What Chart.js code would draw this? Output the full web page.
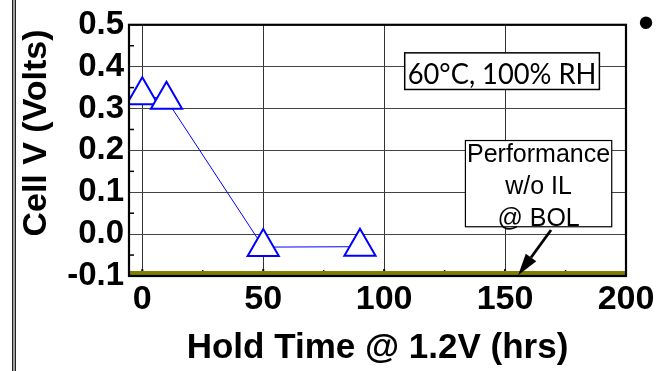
<!DOCTYPE html>
<html><head><meta charset="utf-8">
<script src="https://cdn.jsdelivr.net/npm/chart.js@4"></script>
<style>
html,body{margin:0;padding:0;background:#fff;}
#wrap{position:relative;width:659px;height:371px;overflow:hidden;background:#fff;}
canvas{position:absolute;left:0;top:0;}
#bar{position:absolute;left:12px;top:0;width:2px;height:371px;background:#a0a0a0;border-left:1.5px solid #222;border-right:1.5px solid #222;}
#bullet{position:absolute;left:638px;top:-4px;font:46px 'Liberation Sans',Arial,sans-serif;color:#000;line-height:52px;}
</style></head><body>
<div id="wrap"><canvas id="c" width="659" height="371"></canvas><div id="bar"></div><div id="bullet">•</div></div>
<script>
const holdTimeHrs = [0, 10, 50, 90];
const cellVoltage = [0.332, 0.321, -0.031, -0.030];
const bolTimeHrs = [-5.5, 200];
const bolVoltage = [-0.1, -0.1];
const xTickValues = [0, 50, 100, 150, 200];
const yTickValues = [-0.1, 0.0, 0.1, 0.2, 0.3, 0.4, 0.5];
const conditionLabel = '60°C, 100% RH';
const baselineLabel = ['Performance', 'w/o IL', '@ BOL'];
const xAxisTitle = 'Hold Time @ 1.2V (hrs)';
const yAxisTitle = 'Cell V (Volts)';

const FONT = "'Liberation Sans', Arial, sans-serif";

function line(ctx, x1, y1, x2, y2) { ctx.beginPath(); ctx.moveTo(x1, y1); ctx.lineTo(x2, y2); ctx.stroke(); }

const framePlugin = {
  id: 'frame',
  beforeDatasetsDraw(chart) {
    const {ctx, chartArea: a, scales: {x, y}} = chart;
    ctx.save();
    ctx.strokeStyle = '#000';
    ctx.lineWidth = 1.5;
    for (let i = 0; i < yTickValues.length - 1; i++) {
      const py = y.getPixelForValue((yTickValues[i] + yTickValues[i + 1]) / 2);
      line(ctx, a.left, py, a.left + 5, py);
    }
    for (let i = 0; i < xTickValues.length - 1; i++) {
      const px = x.getPixelForValue((xTickValues[i] + xTickValues[i + 1]) / 2);
      line(ctx, px, a.bottom, px, a.bottom - 6);
    }
    ctx.lineWidth = 2;
    xTickValues.forEach(v => { const px = x.getPixelForValue(v); line(ctx, px, a.bottom, px, a.bottom - 7); });
    ctx.restore();
  },
  afterDatasetsDraw(chart) {
    const {ctx, chartArea: a, scales: {x, y}} = chart;
    ctx.save();
    ctx.strokeStyle = '#000';
    ctx.lineWidth = 2.2;
    ctx.strokeRect(a.left, a.top, a.right - a.left, a.bottom - a.top);

    let bx1 = x.getPixelForValue(108.5), bx2 = x.getPixelForValue(189.0);
    let by1 = y.getPixelForValue(0.433), by2 = y.getPixelForValue(0.3455);
    ctx.fillStyle = '#fff';
    ctx.fillRect(bx1, by1, bx2 - bx1, by2 - by1);
    ctx.lineWidth = 1.5;
    ctx.strokeRect(bx1, by1, bx2 - bx1, by2 - by1);
    ctx.fillStyle = '#000';
    ctx.font = "29px Lato, 'Open Sans', sans-serif";
    ctx.textAlign = 'center';
    ctx.textBaseline = 'alphabetic';
    ctx.fillText(conditionLabel, (bx1 + bx2) / 2, by1 + 31.5, bx2 - bx1 - 6);

    bx1 = x.getPixelForValue(133.6); bx2 = x.getPixelForValue(194.1);
    by1 = y.getPixelForValue(0.2236); by2 = y.getPixelForValue(0.0176);
    ctx.fillStyle = '#fff';
    ctx.fillRect(bx1, by1, bx2 - bx1, by2 - by1);
    ctx.lineWidth = 1.2;
    ctx.strokeRect(bx1, by1, bx2 - bx1, by2 - by1);
    ctx.fillStyle = '#000';
    ctx.font = "25px " + FONT;
    baselineLabel.forEach((t, i) => ctx.fillText(t, (bx1 + bx2) / 2, by1 + 21.7 + i * 31.7));

    const sx = x.getPixelForValue(169.0), sy = y.getPixelForValue(0.010);
    const tx = x.getPixelForValue(155.4), ty = y.getPixelForValue(-0.0985);
    const ang = Math.atan2(ty - sy, tx - sx);
    const hl = 22, hw = 6.5;
    const bxh = tx - Math.cos(ang) * hl, byh = ty - Math.sin(ang) * hl;
    ctx.strokeStyle = '#000';
    ctx.lineWidth = 2.8;
    line(ctx, sx, sy, bxh, byh);
    ctx.beginPath();
    ctx.moveTo(tx, ty);
    ctx.lineTo(bxh + Math.sin(ang) * hw, byh - Math.cos(ang) * hw);
    ctx.lineTo(bxh - Math.sin(ang) * hw, byh + Math.cos(ang) * hw);
    ctx.closePath();
    ctx.fill();
    ctx.restore();
  },
  afterDraw(chart) {
    const {ctx} = chart;
    ctx.save();
    ctx.translate(36.5, 133);
    ctx.rotate(-Math.PI / 2);
    ctx.fillStyle = '#000';
    ctx.font = "bold 34px " + FONT;
    ctx.textAlign = 'center';
    ctx.textBaseline = 'middle';
    ctx.fillText(yAxisTitle, 0, 0);
    ctx.restore();
  }
};

new Chart(document.getElementById('c'), {
  type: 'scatter',
  data: {
    datasets: [
      {
        label: 'Performance w/o IL @ BOL',
        data: bolTimeHrs.map((t, i) => ({x: t, y: bolVoltage[i]})),
        showLine: true,
        borderColor: '#7f7f00',
        borderWidth: 10,
        pointRadius: 0,
        clip: 0,
        order: 2
      },
      {
        label: 'Cell V',
        data: holdTimeHrs.map((t, i) => ({x: t, y: cellVoltage[i]})),
        showLine: true,
        borderColor: '#0000ff',
        borderWidth: 1,
        pointStyle: 'triangle',
        pointRadius: 18,
        pointBorderWidth: 2,
        pointBorderColor: '#0000ff',
        pointBackgroundColor: '#ffffff',
        clip: 0,
        order: 1
      }
    ]
  },
  plugins: [framePlugin],
  options: {
    responsive: false,
    animation: false,
    devicePixelRatio: 1,
    layout: {padding: {left: 0, top: 14, right: 33, bottom: 0}},
    plugins: {legend: {display: false}, tooltip: {enabled: false}, title: {display: false}},
    scales: {
      x: {
        type: 'linear',
        min: -5.5,
        max: 200,
        afterBuildTicks: s => { s.ticks = xTickValues.map(v => ({value: v})); },
        afterFit: s => { s.height = 95; },
        grid: {color: '#333', lineWidth: 1, drawTicks: false},
        border: {display: true, color: '#000', width: 2},
        ticks: {
          color: '#000',
          font: {family: FONT, size: 34, weight: 'bold'},
          padding: 3,
          maxRotation: 0,
          autoSkip: false,
          callback: v => String(v)
        },
        title: {
          display: true,
          text: xAxisTitle,
          color: '#000',
          font: {family: FONT, size: 35, weight: 'bold'},
          padding: {top: 0, bottom: 2}
        }
      },
      y: {
        type: 'linear',
        min: -0.1,
        max: 0.5,
        afterBuildTicks: s => { s.ticks = yTickValues.map(v => ({value: v})); },
        afterFit: s => { s.width = 129; },
        grid: {color: '#444', lineWidth: 1, drawTicks: false},
        border: {display: true, color: '#000', width: 2},
        ticks: {
          color: '#000',
          font: {family: FONT, size: 33, weight: 'bold'},
          padding: 5,
          autoSkip: false,
          callback: v => Number(v).toFixed(1)
        },
        title: {display: false}
      }
    }
  }
});
</script>
</body></html>
